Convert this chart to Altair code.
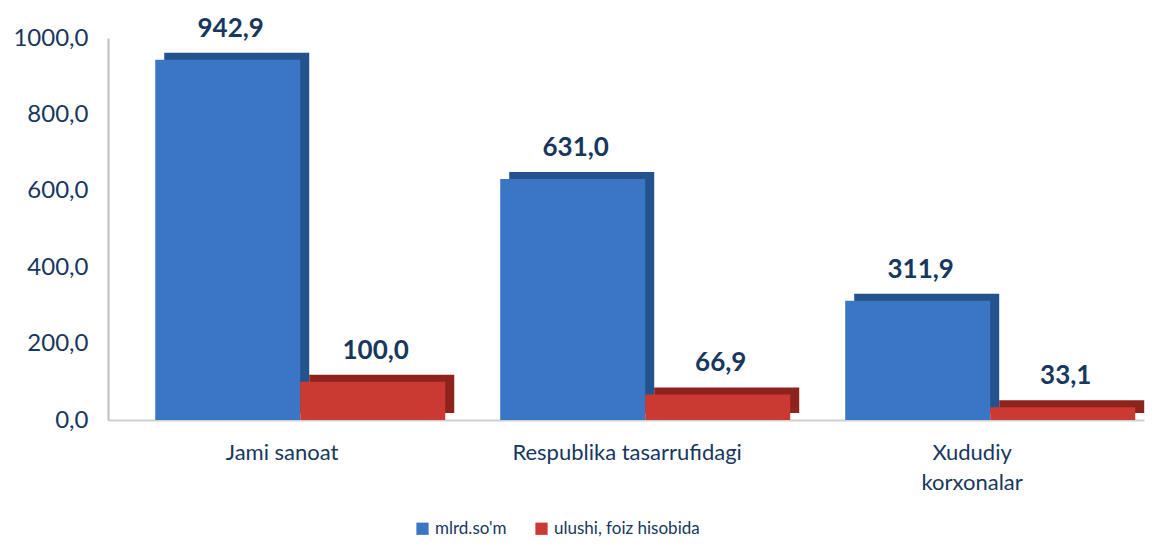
import altair as alt
import pandas as pd

categories = ["Jami sanoat", "Respublika tasarrufidagi", "Xududiy korxonalar"]
series = ["mlrd.so'm", "ulushi, foiz hisobida"]
mlrd_som = [942.9, 631.0, 311.9]
ulushi = [100.0, 66.9, 33.1]

rows = []
for i, c in enumerate(categories):
    rows.append({"cat": c, "series": series[0], "value": mlrd_som[i]})
    rows.append({"cat": c, "series": series[1], "value": ulushi[i]})
df = pd.DataFrame(rows)
df["label"] = df["value"].map(lambda v: f"{v:.1f}".replace(".", ","))

FONT = "Lato"
NAVY = "#17375E"
front_colors = ["#3A76C4", "#CB3A32"]
side_colors = ["#24528C", "#8E231E"]

xscale = alt.Scale(paddingInner=0.16, paddingOuter=0.0815, align=0.84)
x = alt.X("cat:N", sort=categories, scale=xscale,
          axis=alt.Axis(title=None, labelAngle=0, labelFont=FONT, labelFontSize=22,
                        labelColor=NAVY, ticks=False, domainColor="#D0D0D0", domainWidth=2,
                        labelPadding=22, labelOffset=-18, labelLineHeight=30, labelLimit=0,
                        labelExpr="datum.value == 'Xududiy korxonalar' ? ['Xududiy', 'korxonalar'] : datum.value"))
y = alt.Y("value:Q", scale=alt.Scale(domain=[0, 1000], nice=False),
          axis=alt.Axis(title=None, values=[0, 200, 400, 600, 800, 1000], grid=False, ticks=False,
                        labelFont=FONT, labelFontSize=24, labelColor=NAVY, labelPadding=20,
                        domainColor="#BFBFBF", domainWidth=2,
                        labelExpr="replace(format(datum.value, '.1f'), '.', ',')"))

base = alt.Chart(df)

side = base.mark_bar(yOffset=-7).encode(
    x=x,
    xOffset=alt.XOffset("series:N", sort=series, scale=alt.Scale(range=[9, 299])),
    y=y,
    color=alt.Color("series:N", sort=series, scale=alt.Scale(domain=series, range=side_colors), legend=None),
)

front = base.mark_bar().encode(
    x=x,
    xOffset=alt.XOffset("series:N", sort=series, scale=alt.Scale(range=[0, 290])),
    y=y,
    color=alt.Color("series:N", sort=series, scale=alt.Scale(domain=series, range=front_colors),
                    legend=alt.Legend(title=None, orient="none", legendX=306, legendY=482,
                                      direction="horizontal", symbolType="square", symbolSize=150,
                                      symbolStrokeWidth=0, labelFont=FONT, labelFontSize=17,
                                      labelColor=NAVY, columnPadding=26, labelOffset=4)),
)

text = base.mark_text(font=FONT, fontSize=26, fontWeight="bold", color=NAVY,
                      baseline="bottom", dy=-18, dx=3).encode(
    x=x,
    xOffset=alt.XOffset("series:N", sort=series, scale=alt.Scale(range=[0, 290])),
    y=y, text="label:N",
)

chart = alt.layer(side, front, text).resolve_scale(color="independent", xOffset="independent").properties(
    width=1036, height=382,
    autosize=alt.AutoSizeParams(type="none"),
    padding={"left": 100, "top": 30, "right": 3, "bottom": 120},
).configure_view(stroke=None)

chart.save("out.html", embed_options={"renderer": "svg", "actions": False})
